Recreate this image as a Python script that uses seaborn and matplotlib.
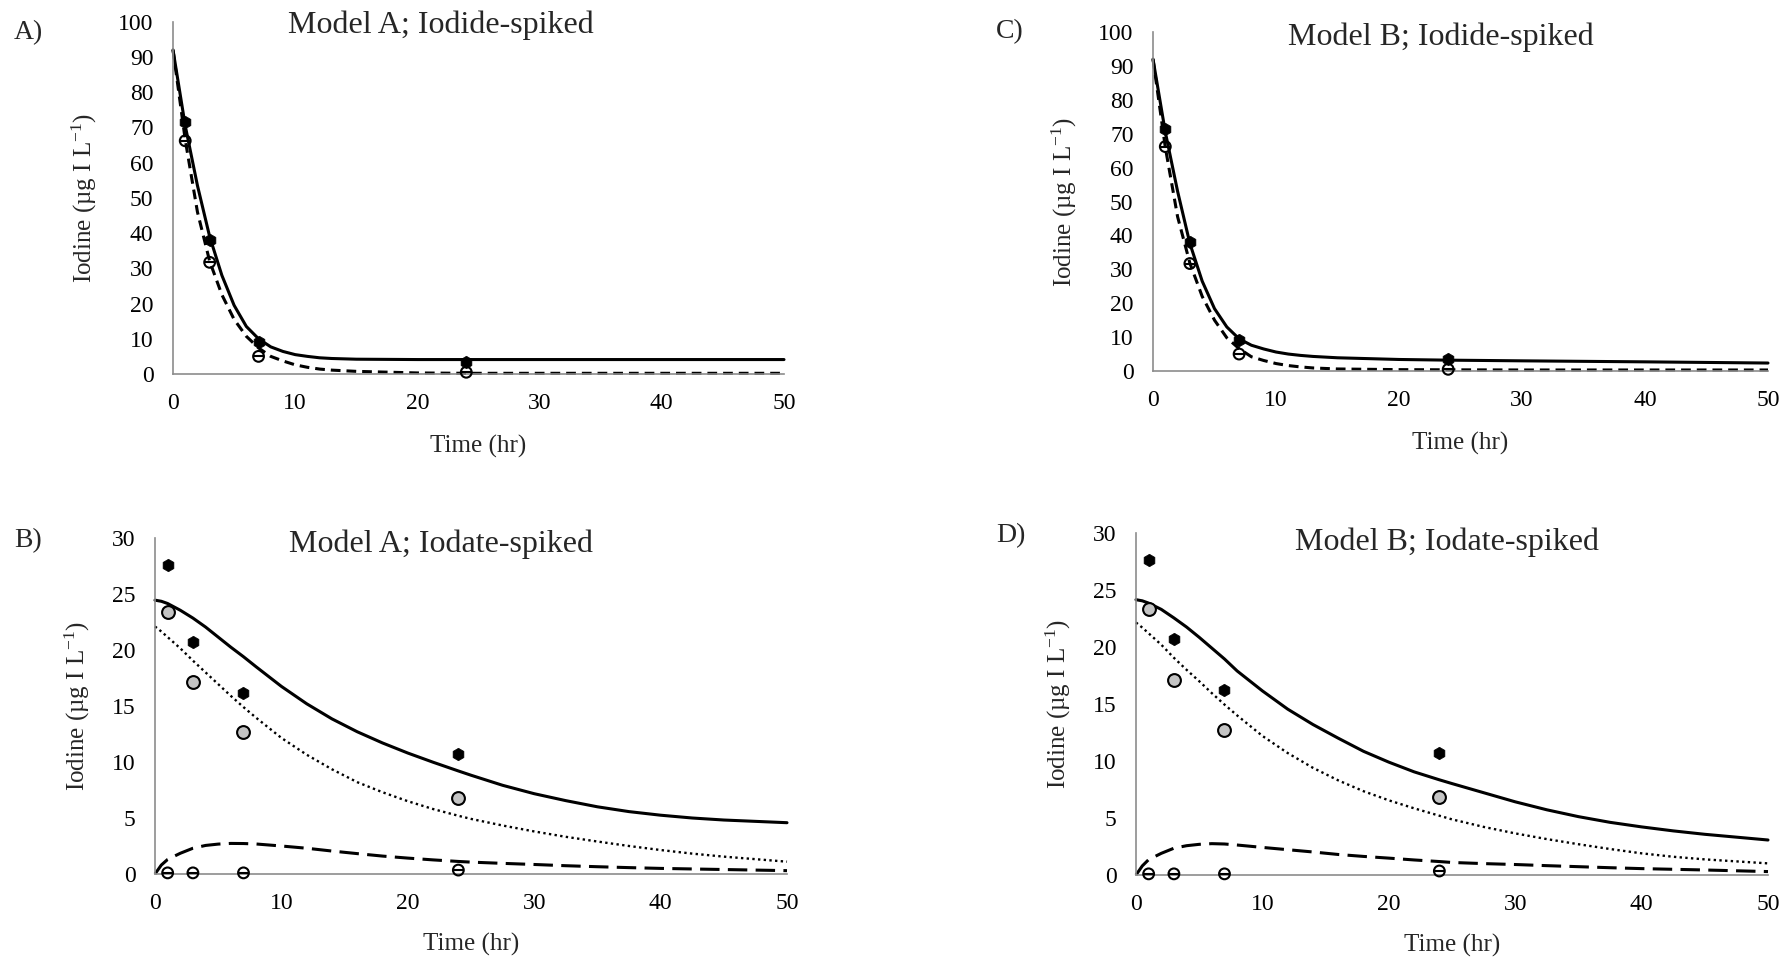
import numpy as np
import pandas as pd
import matplotlib
matplotlib.use("Agg")
import matplotlib.pyplot as plt
import seaborn as sns

sns.set_theme(style="white")
plt.rcParams['font.family'] = ['Liberation Serif', 'DejaVu Serif']
plt.rcParams['mathtext.fontset'] = 'custom'
plt.rcParams['mathtext.rm'] = 'Liberation Serif'
plt.rcParams['mathtext.it'] = 'Liberation Serif:italic'
plt.rcParams['lines.scale_dashes'] = False

# ---------------- data ----------------
t_obs = [1, 3, 7, 24]

# Iodide-spiked (panels A, C)
iodide_total_obs = [71.5, 38.0, 9.2, 3.5]
iodide_iodide_obs = [66.2, 31.7, 5.0, 0.5]

t_model_iodide = [0, 1, 2, 3, 4, 5, 6, 7, 8, 9, 10, 11, 12, 13, 15, 20, 24, 30, 40, 50]
A_total_model = [92.0, 70.5, 53.5, 39.0, 28.0, 19.5, 13.5, 10.0, 7.7, 6.4, 5.5, 5.0, 4.6, 4.4,
                 4.2, 4.1, 4.1, 4.1, 4.1, 4.1]
A_iodide_model = [92.0, 66.5, 46.0, 32.0, 22.5, 15.5, 10.7, 7.4, 5.0, 3.7, 2.6, 1.9, 1.4, 1.1,
                  0.75, 0.3, 0.2, 0.2, 0.2, 0.2]
C_total_model = [92.0, 70.5, 53.0, 37.6, 26.5, 18.4, 13.0, 9.5, 7.6, 6.5, 5.6, 5.0, 4.6, 4.3,
                 3.9, 3.4, 3.2, 3.0, 2.7, 2.35]
C_iodide_model = [92.0, 66.0, 45.5, 31.8, 22.0, 15.0, 9.8, 6.6, 4.2, 3.1, 2.2, 1.6, 1.2, 0.9,
                  0.6, 0.4, 0.35, 0.3, 0.3, 0.3]

# Iodate-spiked (panels B, D)
iodate_total_obs = [27.6, 20.7, 16.2, 10.7]
iodate_iodate_obs = [23.35, 17.1, 12.7, 6.8]
iodate_iodide_obs = [0.1, 0.1, 0.1, 0.35]

t_model_iodate = [0, 0.5, 1, 2, 3, 4, 5, 6, 7, 8, 10, 12, 14, 16, 18, 20, 22, 24, 25,
                  27.5, 30, 32.5, 35, 37.5, 40, 42.5, 45, 50]
B_total_model = [24.45, 24.35, 24.15, 23.55, 22.85, 22.05, 21.15, 20.25, 19.4, 18.5, 16.75,
                 15.2, 13.85, 12.7, 11.7, 10.8, 9.98, 9.2, 8.82, 7.92, 7.17, 6.55, 6.0, 5.57,
                 5.25, 5.0, 4.82, 4.58]
B_iodate_model = [22.1, 21.65, 21.15, 20.15, 19.05, 18.0, 16.95, 15.9, 14.9, 13.95, 12.15,
                  10.65, 9.35, 8.2, 7.3, 6.5, 5.8, 5.2, 4.92, 4.33, 3.8, 3.32, 2.9, 2.5, 2.14,
                  1.82, 1.55, 1.1]
B_iodide_model = [0.0, 0.8, 1.3, 1.85, 2.3, 2.55, 2.67, 2.73, 2.72, 2.68, 2.5, 2.3, 2.05, 1.82,
                  1.6, 1.42, 1.26, 1.12, 1.06, 0.95, 0.85, 0.74, 0.65, 0.57, 0.5, 0.45, 0.4, 0.3]
D_total_model = [24.15, 24.05, 23.85, 23.3, 22.55, 21.75, 20.85, 19.9, 18.95, 17.9, 16.15,
                 14.55, 13.2, 12.0, 10.85, 9.9, 9.05, 8.35, 8.02, 7.22, 6.42, 5.72, 5.12, 4.62,
                 4.22, 3.87, 3.57, 3.07]
D_iodate_model = [22.15, 21.7, 21.2, 20.2, 19.05, 18.0, 17.0, 15.95, 14.95, 14.0, 12.2, 10.7,
                  9.4, 8.3, 7.35, 6.55, 5.85, 5.2, 4.88, 4.22, 3.65, 3.15, 2.7, 2.28, 1.9, 1.6,
                  1.37, 1.02]
D_iodide_model = [0.0, 0.8, 1.35, 1.9, 2.35, 2.57, 2.69, 2.75, 2.72, 2.63, 2.42, 2.22, 2.02,
                  1.8, 1.63, 1.48, 1.32, 1.18, 1.1, 1.0, 0.92, 0.82, 0.73, 0.64, 0.56, 0.5,
                  0.44, 0.3]

titles = ["Model A; Iodide-spiked", "Model B; Iodide-spiked",
          "Model A; Iodate-spiked", "Model B; Iodate-spiked"]
panel_labels = ["A)", "C)", "B)", "D)"]
xlabel = "Time (hr)"
ylabel = "Iodine (µg I L$^{-1}$)"

# ---------------- figure ----------------
W, H = 1785, 963
fig = plt.figure(figsize=(W / 100, H / 100), dpi=100)

def px_rect(x0, x1, ytop, ybot):
    return [x0 / W, 1 - ybot / H, (x1 - x0) / W, (ybot - ytop) / H]

axA = fig.add_axes(px_rect(173, 784, 21.7, 374))
axC = fig.add_axes(px_rect(1153, 1768, 32, 371))
axB = fig.add_axes(px_rect(155, 787, 538, 874))
axD = fig.add_axes(px_rect(1136, 1768, 533, 875))

SPINE = "#8c8c8c"
LW = 2.2

def style_axis(ax, ymax, ystep, xlabelpad):
    ax.set_xlim(0, 50)
    ax.set_ylim(0, ymax)
    ax.set_xticks(np.arange(0, 51, 10))
    ax.set_yticks(np.arange(0, ymax + 0.1, ystep))
    for s in ["top", "right"]:
        ax.spines[s].set_visible(False)
    for s in ["left", "bottom"]:
        ax.spines[s].set_color(SPINE)
        ax.spines[s].set_linewidth(1.2)
    ax.tick_params(axis="both", direction="out", length=5, width=1.2,
                   color=SPINE, labelsize=17, labelcolor="black", pad=9)
    ax.tick_params(axis="y", pad=9)
    ax.set_xlabel(xlabel, fontsize=18, labelpad=xlabelpad)
    ax.set_ylabel(ylabel, fontsize=18, labelpad=14)
    ax.grid(False)
    ax.set_facecolor("white")

def line(ax, t, y, ls, lw=LW):
    sns.lineplot(x=t, y=y, ax=ax, color="black", linewidth=lw, linestyle=ls,
                 sort=False, estimator=None)

def open_theta(ax, t, y, size=60):
    sns.scatterplot(x=t, y=y, ax=ax, marker="o", s=size, facecolor="none",
                    edgecolor="black", linewidth=1.5, zorder=5)
    sns.scatterplot(x=t, y=y, ax=ax, marker="_", s=size * 0.8, color="black",
                    linewidth=1.5, zorder=5)

def filled(ax, t, y, size=80):
    sns.scatterplot(x=t, y=y, ax=ax, marker="h", s=size, color="black",
                    edgecolor="black", linewidth=0.5, zorder=6)

def gray(ax, t, y, size=85):
    sns.scatterplot(x=t, y=y, ax=ax, marker="o", s=size, color="#c4c4c4",
                    edgecolor="black", linewidth=1.5, zorder=5)

short_dash = (0, (7, 4.3))
long_dash = (0, (14, 6))
dots = (0, (1.7, 2.4))

# Panel A
line(axA, t_model_iodide, A_total_model, "-")
line(axA, t_model_iodide, A_iodide_model, short_dash)
open_theta(axA, t_obs, iodide_iodide_obs)
filled(axA, t_obs, iodide_total_obs)
style_axis(axA, 100, 10, 15)

# Panel C
line(axC, t_model_iodide, C_total_model, "-")
line(axC, t_model_iodide, C_iodide_model, short_dash)
open_theta(axC, t_obs, iodide_iodide_obs)
filled(axC, t_obs, iodide_total_obs)
style_axis(axC, 100, 10, 15)

# Panel B
line(axB, t_model_iodate, B_total_model, "-")
line(axB, t_model_iodate, B_iodate_model, dots, lw=1.7)
line(axB, t_model_iodate, B_iodide_model, long_dash)
gray(axB, t_obs, iodate_iodate_obs)
open_theta(axB, t_obs, iodate_iodide_obs)
filled(axB, t_obs, iodate_total_obs)
style_axis(axB, 30, 5, 13)

# Panel D
line(axD, t_model_iodate, D_total_model, "-")
line(axD, t_model_iodate, D_iodate_model, dots, lw=1.7)
line(axD, t_model_iodate, D_iodide_model, long_dash)
gray(axD, t_obs, iodate_iodate_obs)
open_theta(axD, t_obs, iodate_iodide_obs)
filled(axD, t_obs, iodate_total_obs)
style_axis(axD, 30, 5, 13)

for ax in (axA, axB, axC, axD):
    for ln in ax.lines:
        ln.set_clip_on(False)
        ln.set_solid_joinstyle("round")
    for c in ax.collections:
        c.set_clip_on(False)

# titles and panel labels (pixel positions)
title_pos = [(441, 25), (1441, 37), (441, 544), (1447, 542)]
label_pos = [(14, 33), (996, 32), (14, 541), (996, 536)]
for txt, (x, y) in zip(titles, title_pos):
    fig.text(x / W, 1 - y / H, txt, ha="center", va="center", fontsize=23)
for txt, (x, y) in zip(panel_labels, label_pos):
    fig.text(x / W, 1 - y / H, txt, ha="left", va="center", fontsize=20)

fig.savefig("out.png", dpi=100, facecolor="white")
